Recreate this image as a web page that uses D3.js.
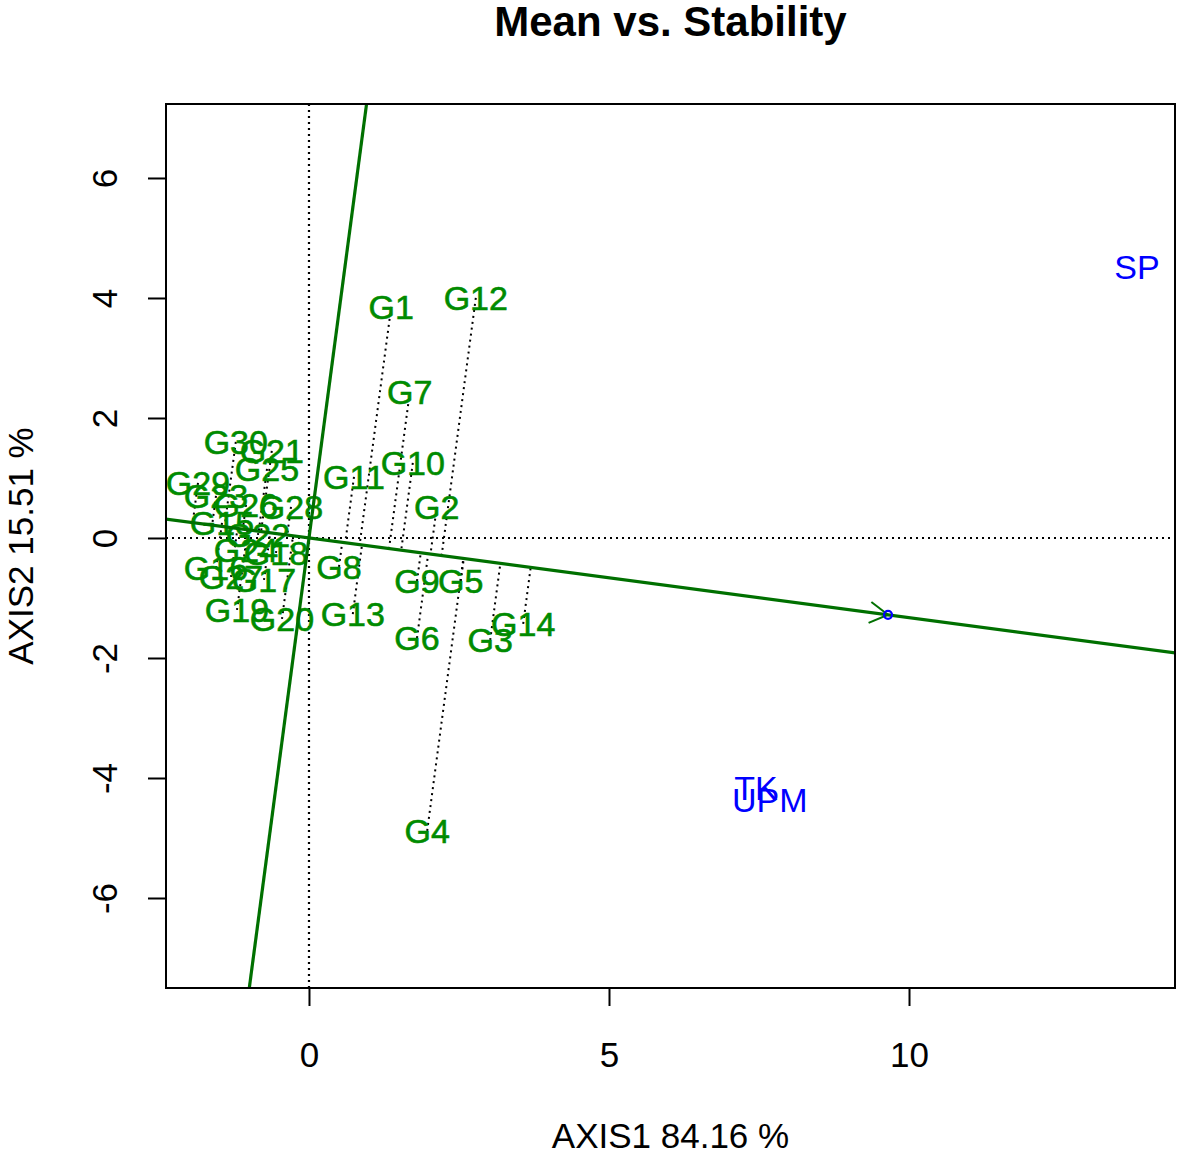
<!DOCTYPE html>
<html>
<head>
<meta charset="utf-8">
<script src="https://cdn.jsdelivr.net/npm/d3@7"></script>
<style>
  body { margin: 0; background: #fff; }
  svg text { font-family: "Liberation Sans", Arial, sans-serif; }
</style>
</head>
<body>
<svg id="chart" width="1181" height="1155" viewBox="0 0 1181 1155"></svg>
<script>
// GGE biplot, mean vs. stability view
const genotypes = ["G1", "G2", "G3", "G4", "G5", "G6", "G7", "G8", "G9", "G10",
    "G11", "G12", "G13", "G14", "G15", "G16", "G17", "G18", "G19", "G20",
    "G21", "G22", "G23", "G24", "G25", "G26", "G27", "G28", "G29", "G30"];
const genoAxis1 = [1.37, 2.13, 3.02, 1.97, 2.53, 1.80, 1.68, 0.50, 1.80, 1.73,
    0.75, 2.78, 0.73, 3.57, -1.45, -1.55, -0.75, -0.55, -1.20, -0.45,
    -0.62, -0.85, -1.55, -1.05, -0.70, -1.05, -1.30, -0.30, -1.85, -1.22];
const genoAxis2 = [3.85, 0.52, -1.70, -4.88, -0.72, -1.67, 2.43, -0.48, -0.72, 1.25,
    1.02, 4.00, -1.27, -1.43, 0.25, -0.50, -0.70, -0.25, -1.20, -1.35,
    1.45, 0.05, 0.70, -0.20, 1.15, 0.55, -0.65, 0.52, 0.92, 1.60];

const environments = ["SP", "TK", "UPM"];
const envAxis1 = [13.80, 7.45, 7.68];
const envAxis2 = [4.52, -4.17, -4.37];

// average environment coordinate (arrow tip)
const meanEnv = [9.65, -1.28];

const xTicks = [0, 5, 10];
const yTicks = [-6, -4, -2, 0, 2, 4, 6];

const titleText = "Mean vs. Stability";
const xTitle = "AXIS1 84.16 %";
const yTitle = "AXIS2 15.51 %";

(function () {
    const svg = d3.select("#chart");
    const margin = {top: 104, right: 6, bottom: 167, left: 166};
    const width = 1181 - margin.left - margin.right;
    const height = 1155 - margin.top - margin.bottom;

    const genoColor = "#008b00";
    const lineColor = "#007000";
    const envColor = "#0000ff";
    const fontSize = 34;

    // equal aspect: 60 px per unit on both axes
    const x = d3.scaleLinear().domain([-2.383, 14.433]).range([0, width]);
    const y = d3.scaleLinear().domain([-7.5, 7.233]).range([height, 0]);

    const g = svg.append("g").attr("transform", `translate(${margin.left},${margin.top})`);

    g.append("defs").append("clipPath").attr("id", "plot-clip")
        .append("rect").attr("width", width).attr("height", height);

    const plot = g.append("g").attr("clip-path", "url(#plot-clip)");

    // reference lines through origin
    plot.append("line")
        .attr("x1", 0).attr("x2", width)
        .attr("y1", y(0)).attr("y2", y(0))
        .attr("stroke", "#000").attr("stroke-width", 2.2)
        .attr("stroke-dasharray", "2,4");
    plot.append("line")
        .attr("x1", x(0)).attr("x2", x(0))
        .attr("y1", 0).attr("y2", height)
        .attr("stroke", "#000").attr("stroke-width", 2.2)
        .attr("stroke-dasharray", "2,4");

    const genoData = genotypes.map((name, i) => ({name, a1: genoAxis1[i], a2: genoAxis2[i]}));
    const envData = environments.map((name, i) => ({name, a1: envAxis1[i], a2: envAxis2[i]}));

    // unit vector along the average-environment axis
    const len = Math.hypot(meanEnv[0], meanEnv[1]);
    const ux = meanEnv[0] / len, uy = meanEnv[1] / len;

    // projections of genotypes onto the AEA axis
    plot.selectAll(".proj")
        .data(genoData)
        .join("line")
        .attr("class", "proj")
        .attr("x1", d => x(d.a1)).attr("y1", d => y(d.a2))
        .attr("x2", d => x((d.a1 * ux + d.a2 * uy) * ux))
        .attr("y2", d => y((d.a1 * ux + d.a2 * uy) * uy))
        .attr("stroke", "#000").attr("stroke-width", 2)
        .attr("stroke-dasharray", "2,4");

    // genotype labels
    plot.selectAll(".geno")
        .data(genoData)
        .join("text")
        .attr("class", "geno")
        .attr("x", d => x(d.a1)).attr("y", d => y(d.a2))
        .attr("dy", "0.36em")
        .attr("text-anchor", "middle")
        .attr("font-size", fontSize)
        .attr("fill", genoColor)
        .attr("stroke", genoColor).attr("stroke-width", 0.6)
        .text(d => d.name);

    // environment labels
    plot.selectAll(".env")
        .data(envData)
        .join("text")
        .attr("class", "env")
        .attr("x", d => x(d.a1)).attr("y", d => y(d.a2))
        .attr("dy", "0.36em")
        .attr("text-anchor", "middle")
        .attr("font-size", fontSize)
        .attr("fill", envColor)
        .text(d => d.name);

    // AEA abscissa and ordinate, both through the origin
    const far = 40;
    plot.append("line")
        .attr("x1", x(-far * ux)).attr("y1", y(-far * uy))
        .attr("x2", x(far * ux)).attr("y2", y(far * uy))
        .attr("stroke", lineColor).attr("stroke-width", 3.2);
    plot.append("line")
        .attr("x1", x(far * uy)).attr("y1", y(-far * ux))
        .attr("x2", x(-far * uy)).attr("y2", y(far * ux))
        .attr("stroke", lineColor).attr("stroke-width", 3.2);

    // arrow head at the average environment
    const tipX = x(meanEnv[0]), tipY = y(meanEnv[1]);
    const ang = Math.atan2(tipY - y(0), tipX - x(0));
    [Math.PI / 6, -Math.PI / 6].forEach(off => {
        plot.append("line")
            .attr("x1", tipX).attr("y1", tipY)
            .attr("x2", tipX - 21 * Math.cos(ang + off))
            .attr("y2", tipY - 21 * Math.sin(ang + off))
            .attr("stroke", lineColor).attr("stroke-width", 2);
    });
    plot.append("circle")
        .attr("cx", tipX).attr("cy", tipY).attr("r", 4)
        .attr("fill", "none").attr("stroke", envColor).attr("stroke-width", 2.2);

    // box
    g.append("rect")
        .attr("width", width).attr("height", height)
        .attr("fill", "none").attr("stroke", "#000").attr("stroke-width", 2);

    // axes
    const xAxis = g.append("g")
        .attr("transform", `translate(0,${height})`)
        .call(d3.axisBottom(x).tickValues(xTicks).tickSize(18).tickPadding(36));
    xAxis.select(".domain").remove();
    xAxis.selectAll("line").attr("stroke-width", 2);
    xAxis.selectAll("text").attr("font-size", 35).attr("fill", "#000")
        .style("font-family", "'Liberation Sans', Arial, sans-serif");

    const yAxis = g.append("g")
        .call(d3.axisLeft(y).tickValues(yTicks).tickSize(18));
    yAxis.select(".domain").remove();
    yAxis.selectAll("line").attr("stroke-width", 2);
    yAxis.selectAll("text").remove();
    yAxis.selectAll(".tick").append("text")
        .attr("transform", "translate(-62,0) rotate(-90)")
        .attr("text-anchor", "middle")
        .attr("dy", "0.36em")
        .attr("font-size", 35)
        .attr("fill", "#000")
        .text(d => d);

    // titles
    svg.append("text")
        .attr("x", margin.left + width / 2).attr("y", 36)
        .attr("text-anchor", "middle")
        .attr("font-size", 42).attr("font-weight", "bold")
        .text(titleText);

    svg.append("text")
        .attr("x", margin.left + width / 2).attr("y", 1148)
        .attr("text-anchor", "middle")
        .attr("font-size", 35)
        .text(xTitle);

    svg.append("text")
        .attr("transform", `translate(33,${margin.top + height / 2}) rotate(-90)`)
        .attr("text-anchor", "middle")
        .attr("font-size", 35)
        .text(yTitle);
})();
</script>
</body>
</html>
